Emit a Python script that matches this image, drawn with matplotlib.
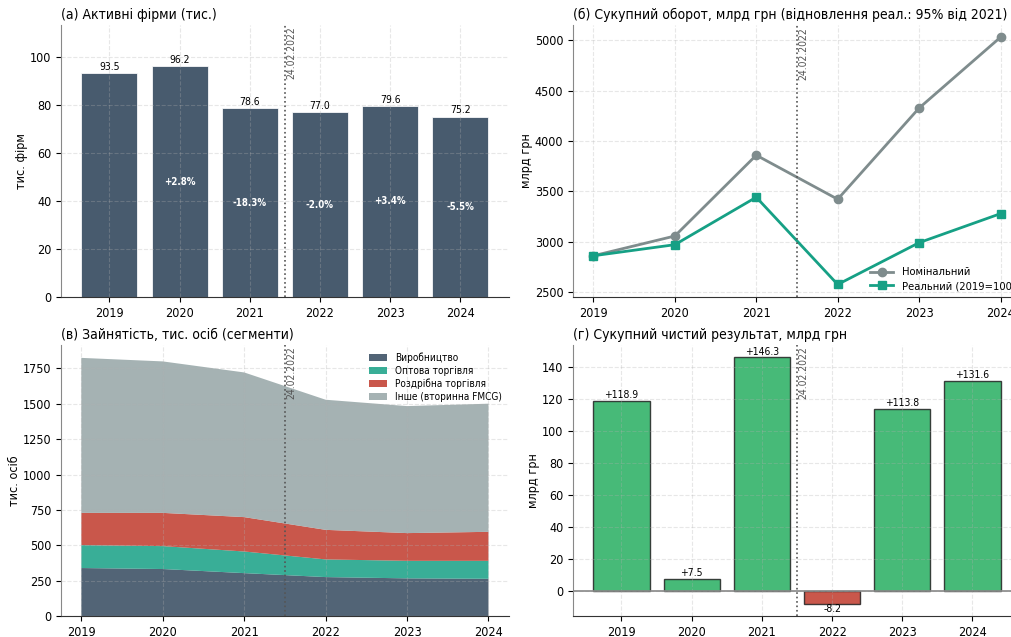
import numpy as np
import matplotlib
matplotlib.use('Agg')
import matplotlib.pyplot as plt

plt.rcParams['font.family'] = ['DejaVu Sans']
plt.rcParams['font.stretch'] = 'condensed'

years = [2019, 2020, 2021, 2022, 2023, 2024]

# (а) active firms, thousands
firms = [93.5, 96.2, 78.6, 77.0, 79.6, 75.2]
firms_chg = ['', '+2.8%', '-18.3%', '-2.0%', '+3.4%', '-5.5%']

# (б) turnover, bn UAH
turnover_nom = [2861, 3057, 3859, 3422, 4327, 5030]
turnover_real = [2861, 2971, 3442, 2576, 2991, 3279]

# (в) employment by segment, thousand people
emp_labels = ['Виробництво', 'Оптова торгівля', 'Роздрібна торгівля', 'Інше (вторинна FMCG)']
emp_manuf = [339, 332, 303, 275, 266, 263]
emp_whole = [162, 162, 153, 125, 124, 127]
emp_retail = [228, 235, 243, 209, 196, 205]
emp_other = [1096, 1071, 1023, 920, 898, 906]

# (г) net result, bn UAH
net_result = [118.9, 7.5, 146.3, -8.2, 113.8, 131.6]

C_SLATE = '#34495e'
C_TEAL = '#16a085'
C_GREY = '#7f8c8d'
C_RED = '#c0392b'
C_GREEN = '#27ae60'
C_LIGHT = '#95a5a6'
WAR_X = 2.5

fig = plt.figure(figsize=(10.11, 6.37), dpi=100)
ax_a = fig.add_axes([0.0603, 0.534, 0.443, 0.427])
ax_b = fig.add_axes([0.5668, 0.534, 0.443, 0.427])
ax_c = fig.add_axes([0.0603, 0.033, 0.443, 0.4254])
ax_d = fig.add_axes([0.5668, 0.033, 0.443, 0.4254])


def style(ax, title, ylabel):
    ax.spines['top'].set_visible(False)
    ax.spines['right'].set_visible(False)
    ax.spines['left'].set_color('#888888')
    ax.spines['bottom'].set_color('#333333')
    ax.grid(True, linestyle='--', alpha=0.3)
    ax.tick_params(labelsize=9)
    ax.set_xticks(x)
    ax.set_xticklabels(years)
    ax.set_ylabel(ylabel, fontsize=9, labelpad=1)
    ax.set_title(title, loc='left', fontsize=10, pad=4)


def war_line(ax):
    ax.axvline(WAR_X, color='#555555', linestyle=':', linewidth=1.2)
    ymax = ax.get_ylim()[1]
    ax.text(WAR_X + 0.02, ymax * 0.995, '24.02.2022', rotation=90, va='top', ha='left',
            fontsize=7.5, color='#555555')


x = np.arange(len(years))

# (а)
bars = ax_a.bar(x, firms, width=0.8, color=C_SLATE, alpha=0.9, edgecolor='white', linewidth=0.6)
for i, b in enumerate(bars):
    ax_a.text(b.get_x() + b.get_width() / 2, firms[i] + 0.5, f'{firms[i]:.1f}',
              ha='center', va='bottom', fontsize=7.5)
    if firms_chg[i]:
        ax_a.text(b.get_x() + b.get_width() / 2, firms[i] / 2, firms_chg[i],
                  ha='center', va='center', fontsize=7, color='white', fontweight='bold')
ax_a.set_ylim(0, 113.5)
style(ax_a, '(а) Активні фірми (тис.)', 'тис. фірм')
war_line(ax_a)

# (б)
ax_b.plot(x, turnover_nom, '-o', color=C_GREY, linewidth=2, markersize=6, label='Номінальний')
ax_b.plot(x, turnover_real, '-s', color=C_TEAL, linewidth=2, markersize=6, label='Реальний (2019=100)')
ax_b.legend(loc='lower right', frameon=False, fontsize=8, handlelength=2.0,
            labelspacing=0.35, borderaxespad=0.1)
style(ax_b, '(б) Сукупний оборот, млрд грн (відновлення реал.: 95% від 2021)', 'млрд грн')
war_line(ax_b)

# (в)
ax_c.stackplot(x, emp_manuf, emp_whole, emp_retail, emp_other, labels=emp_labels,
               colors=[C_SLATE, C_TEAL, C_RED, C_LIGHT], alpha=0.85)
ax_c.set_ylim(0, 1916)
ax_c.legend(loc='upper right', frameon=False, fontsize=7.2, labelspacing=0.3,
            borderaxespad=0.3, handlelength=1.8)
style(ax_c, '(в) Зайнятість, тис. осіб (сегменти)', 'тис. осіб')
war_line(ax_c)

# (г)
colors_d = [C_GREEN if v >= 0 else C_RED for v in net_result]
bars = ax_d.bar(x, net_result, width=0.8, color=colors_d, alpha=0.85,
                edgecolor='#222222', linewidth=1.0)
ax_d.axhline(0, color='#888888', linewidth=1.2)
for i, b in enumerate(bars):
    v = net_result[i]
    if v >= 0:
        ax_d.text(b.get_x() + b.get_width() / 2, v + 0.5, f'{v:+.1f}',
                  ha='center', va='bottom', fontsize=7.5)
    else:
        ax_d.text(b.get_x() + b.get_width() / 2, v - 0.5, f'{v:+.1f}',
                  ha='center', va='top', fontsize=7.5)
style(ax_d, '(г) Сукупний чистий результат, млрд грн', 'млрд грн')
war_line(ax_d)

fig.savefig('out.png', dpi=100)
